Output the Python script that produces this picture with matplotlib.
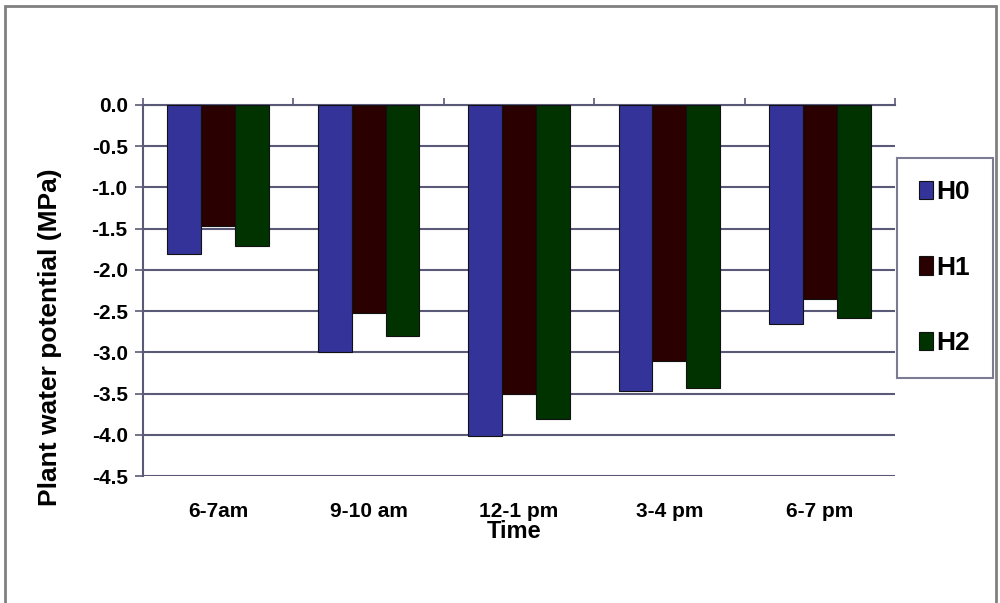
import matplotlib.pyplot as plt
import numpy as np
from matplotlib.patches import Rectangle

plt.rcParams['font.family'] = ['Liberation Sans Narrow', 'Liberation Sans', 'DejaVu Sans']
plt.rcParams['font.weight'] = 'bold'

# 数据
times = ['6-7am', '9-10 am', '12-1 pm', '3-4 pm', '6-7 pm']
series = ['H0', 'H1', 'H2']
h0 = [-1.81, -2.99, -4.02, -3.47, -2.66]
h1 = [-1.47, -2.52, -3.50, -3.10, -2.35]
h2 = [-1.71, -2.80, -3.81, -3.43, -2.58]
colors = ['#333399', '#2b0000', '#003300']
yticks = [0.0, -0.5, -1.0, -1.5, -2.0, -2.5, -3.0, -3.5, -4.0, -4.5]

fig = plt.figure(figsize=(10, 6.03), dpi=100)
# 外框
fig.patches.append(Rectangle((0.005, -0.01), 0.991, 1.0, transform=fig.transFigure,
                             fill=False, edgecolor='#808080', linewidth=2))

ax = fig.add_axes([0.143, 1 - 476 / 603, 0.752, (476 - 105) / 603])
x = np.arange(len(times))
w = 0.225
for i, (vals, name) in enumerate(zip([h0, h1, h2], series)):
    ax.bar(x + (i - 1) * w, vals, w, color=colors[i], edgecolor='#111111',
           linewidth=0.8, label=name, zorder=3)

ax.set_xlim(-0.5, 4.5)
ax.set_ylim(-4.5, 0)
ax.set_yticks(yticks)
ax.set_yticklabels(['%.1f' % v for v in yticks], fontsize=15)
ax.yaxis.grid(True, color='#5a5a78', linewidth=1.5, zorder=0)
ax.set_axisbelow(True)

ax.set_xticks(x)
ax.set_xticklabels(times, fontsize=15)
ax.tick_params(axis='x', which='major', length=0, pad=19)
ax.set_xticks(np.arange(-0.5, 5, 1), minor=True)
ax.tick_params(axis='x', which='minor', top=True, bottom=False, direction='out',
               length=5, color='#5a5a78', width=1.2)
ax.tick_params(axis='y', direction='out', length=6, color='#5a5a78', width=1.2, pad=5)

for s in ['right', 'bottom']:
    ax.spines[s].set_visible(False)
ax.spines['top'].set_color('#5a5a78')
ax.spines['top'].set_linewidth(1.5)
ax.spines['left'].set_color('#5a5a78')
ax.spines['left'].set_linewidth(1.5)

fig.text(0.050, 1 - 337 / 603, 'Plant water potential (MPa)', rotation=90,
         ha='center', va='center', fontsize=19, fontweight='bold')
fig.text(0.514, 1 - 532 / 603, 'Time', ha='center', va='center',
         fontsize=17, fontweight='bold')

leg = ax.legend(loc='upper left', bbox_to_anchor=(0.897, 1 - 158 / 603), bbox_transform=fig.transFigure,
                fontsize=19, frameon=True, fancybox=False, handlelength=0.5, handleheight=0.7,
                handletextpad=0.15, labelspacing=1.95, borderpad=0.85, borderaxespad=0)
leg.get_frame().set_edgecolor('#5a5a78')
leg.get_frame().set_linewidth(1.5)

plt.savefig('out.png', dpi=100)
